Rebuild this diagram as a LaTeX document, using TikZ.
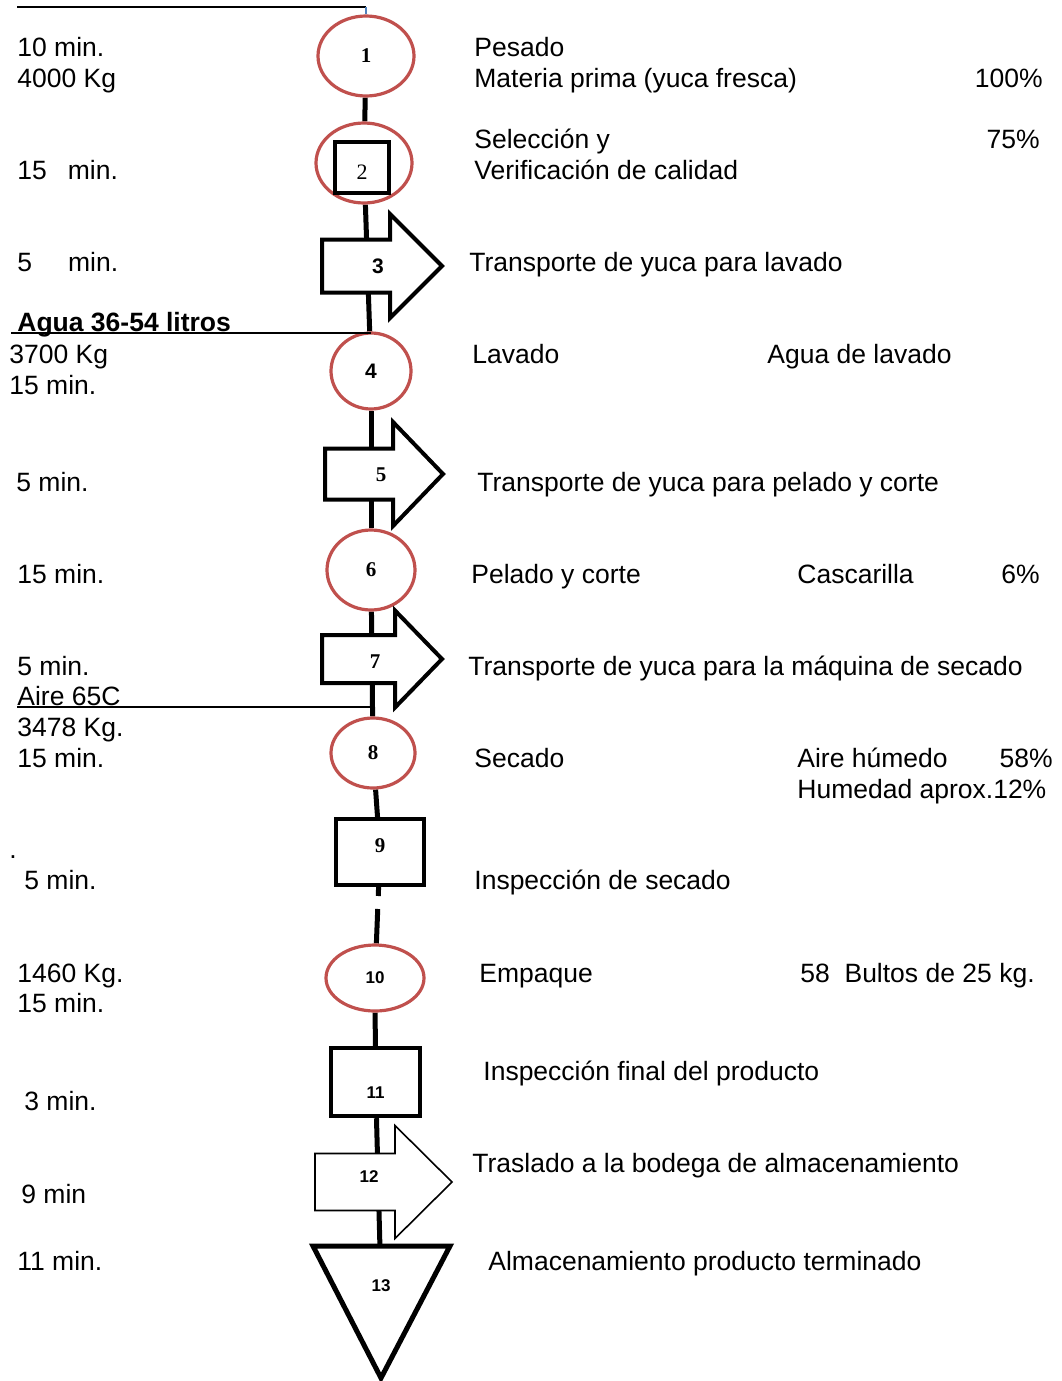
\documentclass[tikz,border=0pt]{standalone}
\usepackage{fontspec}
\setmainfont{Liberation Sans}
\newfontfamily\numserif{Liberation Serif}
\usepackage{tikz}
\usetikzlibrary{calc}
\usetikzlibrary{positioning}
\usetikzlibrary{shapes.geometric}
\usetikzlibrary{backgrounds}
\definecolor{opred}{RGB}{192,80,77}
\definecolor{tickblue}{RGB}{79,129,189}

% tail x, tail y, shaft length, head length, shaft half height, head half height
\newcommand{\transarrow}[7][]{%
  \draw[transp,#1] (#2,#3) ++(0,-#6) -- ++(#4,0) -- ++(0,{-(#7-#6)}) -- ++(#5,#7)
    -- ++(-#5,#7) -- ++(0,{-(#7-#6)}) -- ++(-#4,0) -- cycle;}

\begin{document}
\begin{tikzpicture}[x=0.5pt,y=-0.5pt,
  txt/.style={anchor=base west, inner sep=0pt, font=\fontsize{13.25}{15.5}\selectfont},
  rtxt/.style={txt, anchor=base east},
  oper/.style={ellipse, draw=opred, line width=1.6pt, fill=white, inner sep=0pt},
  insp/.style={rectangle, draw=black, line width=2pt, fill=white, inner sep=0pt},
  transp/.style={draw=black, line width=2pt, fill=white},
  spine/.style={black, line width=2.5pt},
  feed/.style={black, line width=0.6pt},
  snum/.style={inner sep=0pt, font=\numserif\bfseries\fontsize{10.5}{12}\selectfont},
  anum/.style={inner sep=0pt, font=\bfseries\fontsize{10.5}{12}\selectfont},
  bnum/.style={inner sep=0pt, font=\bfseries\fontsize{8.5}{10}\selectfont}]

\useasboundingbox (0,0) rectangle (1061,1381);

\node[oper, minimum width=48pt, minimum height=40pt, snum] (n1) at (366,56) {1};
\node[oper, minimum width=48pt, minimum height=40pt] (n2o) at (364,163) {};
\node[insp, minimum width=27pt, minimum height=25.5pt, font=\numserif\fontsize{11}{12}\selectfont] (n2) at (362,167) {\raisebox{-6pt}[0pt][0pt]{2}};
\transarrow{322}{266}{68}{52}{26.5}{52}
\node[anum] (n3) at (378,266) {3};
\node[oper, minimum width=40pt, minimum height=38pt, anum] (n4) at (371,371) {4};
\transarrow{325}{474}{68}{50}{25.5}{52}
\node[snum] (n5) at (381,475) {5};
\node[oper, minimum width=44pt, minimum height=40pt, snum] (n6) at (371,570) {6};
\transarrow{322}{659}{73}{47}{24}{48.5}
\node[snum] (n7) at (375,662) {7};
\node[oper, minimum width=42pt, minimum height=35pt, snum] (n8) at (373,753) {8};
\node[insp, minimum width=44pt, minimum height=33pt, snum] (n9) at (380,852) {\raisebox{0pt}[0pt][0pt]{9}};
\node[oper, minimum width=49pt, minimum height=33pt, bnum] (n10) at (375,978) {10};
\node[insp, minimum width=44.5pt, minimum height=34pt, line width=2.2pt, bnum] (n11) at (375.5,1082) {\raisebox{-8pt}[0pt][0pt]{11}};
\transarrow[line width=0.8pt]{315}{1182}{80}{57}{28.5}{56.5}
\node[bnum] (n12) at (369,1177) {12};
\draw[line width=2.5pt, fill=white] (313,1246) -- (450,1246) -- (381,1378) -- cycle;
\node[bnum] (n13) at (381,1286) {13};

\begin{scope}[on background layer]
\draw[spine] (n1) -- (n2o);
\draw[spine] (n2o) -- (n4);
\draw[spine] (n4) -- (n6);
\draw[spine] (n6) -- (n8);
\draw[spine] (n8) -- (n9);
\draw[spine, dash pattern=on 4.5pt off 6.5pt on 100pt] (n9) -- (n10);
\draw[spine] (n10) -- (n11);
\draw[spine] (n11) -- (n13);
\end{scope}

\coordinate (feedin) at (17,7);
\coordinate (aguain) at (11,333);
\coordinate (airein) at (17,707);
\draw[feed] (feedin) -- (feedin -| n1);
\draw[tickblue, line width=0.6pt] (feedin -| n1) -- (n1.north);
\draw[feed] (aguain) -- (aguain -| n4);
\draw[feed] (airein) -- (airein -| n8);

\node[txt] (l1a) at (17,56) {10 min.};
\node[txt] (l1b) at (17,87) {4000 Kg};
\node[txt] (l2) at (17,179) {15\hspace{10.5pt}min.};
\node[txt] (l3) at (17,271) {5\hspace{18pt}min.};
\node[txt, font=\bfseries\fontsize{13.25}{15.5}\selectfont] (l4a) at (17,331) {Agua 36-54 litros};
\node[txt] (l4b) at (9,363) {3700 Kg};
\node[txt] (l4c) at (9,394) {15 min.};
\node[txt] (l5) at (16,491) {5 min.};
\node[txt] (l6) at (17,583) {15 min.};
\node[txt] (l7) at (17,675) {5 min.};
\node[txt] (l8a) at (17,705) {Aire 65C};
\node[txt] (l8b) at (17,736) {3478 Kg.};
\node[txt] (l8c) at (17,767) {15 min.};
\node[txt] (l9a) at (9,858) {.};
\node[txt] (l9b) at (24,889) {5 min.};
\node[txt] (l10a) at (17,982) {1460 Kg.};
\node[txt] (l10b) at (17,1012) {15 min.};
\node[txt] (l11) at (24,1110) {3 min.};
\node[txt] (l12) at (21,1203) {9 min};
\node[txt] (l13) at (17,1270) {11 min.};

\node[txt] (r1a) at (474,56) {Pesado};
\node[txt] (r1b) at (474,87) {Materia prima (yuca fresca)};
\node[rtxt] (p1) at (1043,87) {100\%};
\node[txt] (r2a) at (474,148) {Selección y};
\node[txt] (r2b) at (474,179) {Verificación de calidad};
\node[rtxt] (p2) at (1040,148) {75\%};
\node[txt] (r3) at (469,271) {Transporte de yuca para lavado};
\node[txt] (r4) at (472,363) {Lavado};
\node[txt] (o4) at (767,363) {Agua de lavado};
\node[txt] (r5) at (477,491) {Transporte de yuca para pelado y corte};
\node[txt] (r6) at (471,583) {Pelado y corte};
\node[txt] (o6) at (797,583) {Cascarilla};
\node[rtxt] (p6) at (1040,583) {6\%};
\node[txt] (r7) at (468,675) {Transporte de yuca para la máquina de secado};
\node[txt] (r8) at (474,767) {Secado};
\node[txt] (o8a) at (797,767) {Aire húmedo};
\node[rtxt] (p8) at (1053,767) {58\%};
\node[txt] (o8b) at (797,798) {Humedad aprox.12\%};
\node[txt] (r9) at (474,889) {Inspección de secado};
\node[txt] (r10) at (479,982) {Empaque};
\node[txt] (o10) at (800,982) {58\ \ Bultos de 25 kg.};
\node[txt] (r11) at (483,1080) {Inspección final del producto};
\node[txt] (r12) at (472,1172) {Traslado a la bodega de almacenamiento};
\node[txt] (r13) at (488,1270) {Almacenamiento producto terminado};

\end{tikzpicture}
\end{document}
